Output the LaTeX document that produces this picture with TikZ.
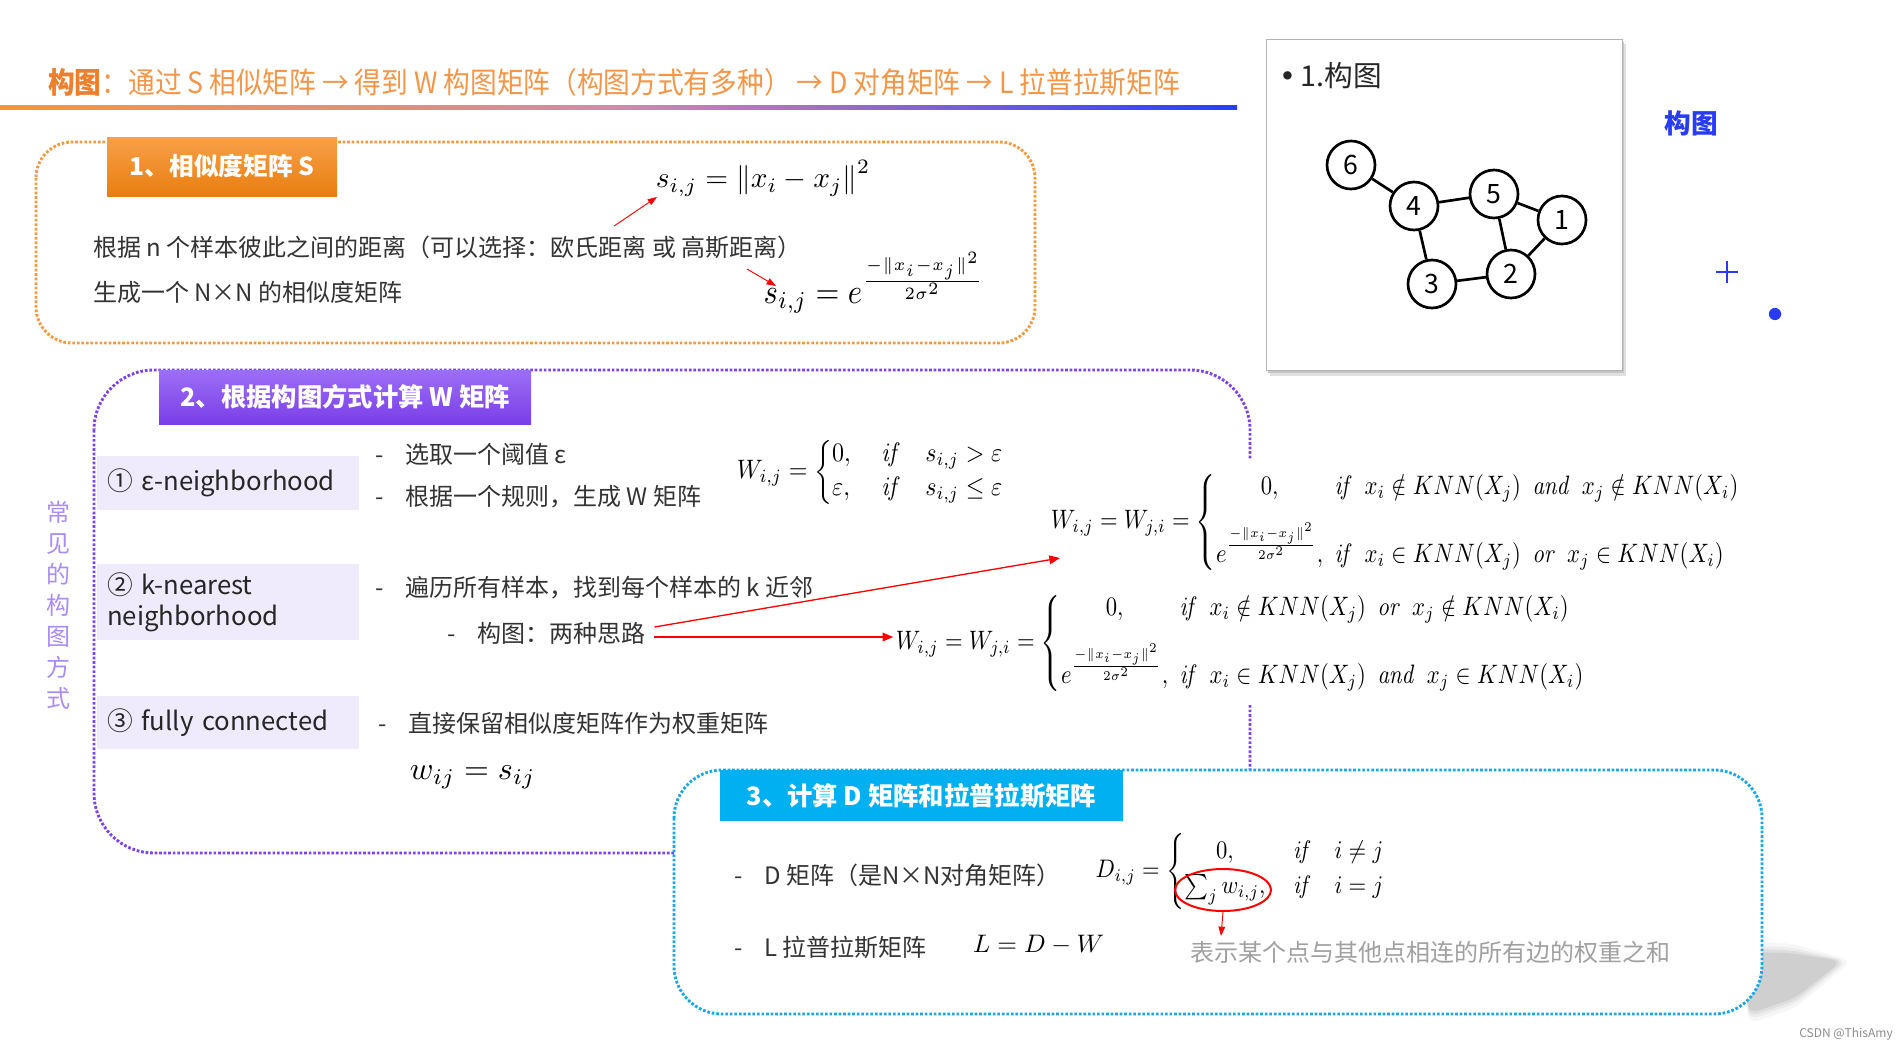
\documentclass[tikz,border=0pt]{standalone}
\usepackage{amsmath}
\usepackage[no-math]{fontspec}
\setmainfont{Noto Sans CJK SC}
\newfontfamily\dejavu{DejaVu Sans}
\usetikzlibrary{arrows.meta,shapes.geometric,calc}
\definecolor{ttlorange}{RGB}{243,150,72}
\definecolor{ttldark}{RGB}{236,128,46}
\definecolor{gradL}{RGB}{247,148,52}
\definecolor{gradM}{RGB}{214,136,170}
\definecolor{gradR}{RGB}{40,60,255}
\definecolor{boxAc}{RGB}{244,154,60}
\definecolor{hAtop}{RGB}{248,160,72}
\definecolor{hAbot}{RGB}{232,126,16}
\definecolor{boxBc}{RGB}{124,68,240}
\definecolor{hBtop}{RGB}{156,110,246}
\definecolor{hBbot}{RGB}{122,62,232}
\definecolor{lav}{RGB}{239,235,252}
\definecolor{vtc}{RGB}{170,140,247}
\definecolor{boxCc}{RGB}{24,168,230}
\definecolor{hCc}{RGB}{0,176,240}
\definecolor{bluec}{RGB}{40,60,245}
\definecolor{graytxt}{RGB}{160,160,160}
\newcommand\fsz[1]{\fontsize{#1}{#1}\selectfont}
\tikzset{
  dotbox/.style={line width=2.2pt, dash pattern=on 2pt off 1.4pt, fill=white},
  hdr/.style={text=white, font=\fsz{19}\bfseries, inner sep=0pt},
  lab/.style={fill=lav, font=\fsz{19.3}, align=left, text width=181pt, inner xsep=7.5pt, inner ysep=0pt, anchor=west, text=black!85},
  body/.style={font=\fsz{18}, anchor=west, inner sep=0pt, text=black!80},
  redarr/.style={red, line width=1pt, -{Triangle[length=8pt,width=6.5pt]}},
  redthin/.style={red, line width=0.7pt, -{Triangle[length=7pt,width=5pt]}},
  gnode/.style={circle, draw, line width=2pt, minimum size=36pt, inner sep=0pt, font=\fsz{20}, fill=white},
  gedge/.style={line width=2pt},
  mathf/.style={inner sep=1pt},
}
\begin{document}
\begin{tikzpicture}[x=0.75pt,y=-0.75pt]
\useasboundingbox (0,0) rectangle (1898,1050);
\fill[white] (0,0) rectangle (1898,1050);

% ---------- title ----------
\node[anchor=west, inner sep=0pt, text=ttlorange, font=\fsz{22}, xscale=0.91] (title) at (48,82)
  {{\bfseries\color{ttldark}构图}：通过 S 相似矩阵 → 得到 W 构图矩阵（构图方式有多种） → D 对角矩阵 → L 拉普拉斯矩阵};
\shade[left color=gradL, right color=gradR, middle color=gradM] (0,105) rectangle (1237,109);

% ---------- box 1 ----------
\draw[dotbox, draw=boxAc, rounded corners=27pt] (36,142) rectangle (1035,343);
\node[hdr, font=\fsz{18.5}\bfseries, top color=hAtop, bottom color=hAbot, minimum width=172.5pt, minimum height=44.25pt] (h1) at (222,166.5) {1、相似度矩阵 S};
\node[mathf, scale=2.2] (f1) at (763,178) {$s_{i,j} = \left\| x_i - x_j \right\|^2$};
\node[mathf, xscale=2.3, yscale=2.6] (f2) at (874,283) {$s_{i,j} = e^{\frac{-\|x_i-x_j\|^2}{2\sigma^2}}$};
\node[body] (t1) at (93,247) {根据 n 个样本彼此之间的距离（可以选择：欧氏距离 或 高斯距离）};
\node[body] (t2) at (93,292) {生成一个 N×N 的相似度矩阵};
\coordinate (a1s) at (614,226); \coordinate (a1e) at (657,197);
\coordinate (a2s) at (747,269); \coordinate (a2e) at (776,286);
\draw[redthin] (a1s) -- (a1e);
\draw[redthin] (a2s) -- (a2e);

% ---------- right panel ----------
\fill[black!12] (1270,44) rectangle (1626,376);
\fill[black!22] (1268,42) rectangle (1624,373);
\node[draw=black!30, fill=white, minimum width=267pt, minimum height=248.25pt, inner sep=0pt] (panel) at (1444,204.5) {};
\node[anchor=west, font=\fsz{21.5}, text=black!85, inner sep=0pt] (ptitle) at (1279,76) {{\dejavu •}\hspace{0.15em}1.构图};
\node[gnode] (g6) at (1351,165) {6};
\node[gnode] (g4) at (1414,206) {4};
\node[gnode] (g5) at (1494,194) {5};
\node[gnode] (g1) at (1562,220) {1};
\node[gnode] (g2) at (1511,274) {2};
\node[gnode] (g3) at (1432,284) {3};
\draw[gedge] (g6) -- (g4) (g4) -- (g5) (g5) -- (g1) (g5) -- (g2) (g1) -- (g2) (g4) -- (g3) (g3) -- (g2);

\node[font=\fsz{20}\bfseries, text=bluec] (blue) at (1691,123) {构图};
\draw[bluec, line width=1.6pt] (1716,272) -- (1738,272) (1727,261) -- (1727,283);
\fill[bluec] (1775,314) circle (4.6pt);

% ---------- box 2 ----------
\draw[dotbox, draw=boxBc, rounded corners=45pt] (94,370) rectangle (1250,853);
\node[hdr, top color=hBtop, bottom color=hBbot, minimum width=279pt, minimum height=40.5pt] (h2) at (345,397) {2、根据构图方式计算 W 矩阵};
\node[font=\fontsize{18}{23.25}\selectfont, align=center, text=vtc, inner sep=0pt] (vt) at (58,605) {常\\见\\的\\构\\图\\方\\式};

\node[lab, minimum height=40.5pt] (l1) at (97,483) {① ε-neighborhood};
\node[lab, minimum height=57pt, font=\fontsize{19.3}{23.25}\selectfont] (l2) at (97,602) {② k-nearest\\neighborhood};
\node[lab, minimum height=39.75pt] (l3) at (97,722.5) {③ fully connected};

\node[body] (b1) at (375,454) {-\hspace{0.9em}选取一个阈值 ε};
\node[body] (b2) at (375,497) {-\hspace{0.9em}根据一个规则，生成 W 矩阵};
\node[body] (b3) at (375,588) {-\hspace{0.9em}遍历所有样本，找到每个样本的 k 近邻};
\node[body] (b4) at (447,633) {-\hspace{0.9em}构图：两种思路};
\node[body] (b5) at (378,723) {-\hspace{0.9em}直接保留相似度矩阵作为权重矩阵};
\node[mathf, anchor=west, scale=2.4] (wij) at (406,777) {$w_{ij} = s_{ij}$};

\node[mathf, xscale=1.8, yscale=2.0] (fe) at (871,472)
 {$W_{i,j} = \left\{\begin{array}{@{}l@{\quad\;}c@{\quad}l@{}} 0, & \mathit{if} & s_{i,j} > \varepsilon\\[1pt] \varepsilon, & \mathit{if} & s_{i,j}\le\varepsilon \end{array}\right.$};
\node[fill=white, inner xsep=1pt, inner ysep=4.5pt, xscale=1.7, yscale=2.0] (fk1) at (1396,522)
 {$W_{i,j}=W_{j,i}=\left\{\begin{array}{@{}c@{\enspace}l@{}} 0, & \mathit{if}\enspace x_i\notin KNN(X_j)\enspace \mathit{and}\enspace x_j\notin KNN(X_i)\\[7pt] e^{\frac{-\|x_i-x_j\|^2}{2\sigma^2}}, & \mathit{if}\enspace x_i\in KNN(X_j)\enspace \mathit{or}\enspace x_j\in KNN(X_i)\end{array}\right.$};
\node[fill=white, inner xsep=1pt, inner ysep=4.5pt, xscale=1.7, yscale=2.0] (fk2) at (1241,643)
 {$W_{i,j}=W_{j,i}=\left\{\begin{array}{@{}c@{\enspace}l@{}} 0, & \mathit{if}\enspace x_i\notin KNN(X_j)\enspace \mathit{or}\enspace x_j\notin KNN(X_i)\\[7pt] e^{\frac{-\|x_i-x_j\|^2}{2\sigma^2}}, & \mathit{if}\enspace x_i\in KNN(X_j)\enspace \mathit{and}\enspace x_j\in KNN(X_i)\end{array}\right.$};
\coordinate (k1tip) at (1060,558);
\draw[redarr] ($(b4.east)+(9,-6)$) -- (k1tip);
\draw[redarr] ($(b4.east)+(9,4)$) -- (fk2.west |- 0,637);

% ---------- box 3 ----------
\foreach \d/\o in {10/0.035,6/0.045,3/0.055,0/0.065}{
  \fill[black, opacity=\o, rounded corners=8pt] (1745,952-\d) -- (1790,953-\d) -- (1842+\d,961) -- (1795,998+\d) -- (1748,1014+\d) -- cycle;
}
\draw[dotbox, draw=boxCc, rounded corners=36pt] (674,770) rectangle (1762,1014);
\node[hdr, fill=hCc, minimum width=302.25pt, minimum height=38.25pt] (h3) at (921.5,795.5) {3、计算 D 矩阵和拉普拉斯矩阵};
\node[body] (d1) at (734,875) {-\hspace{0.9em}D 矩阵（是N×N对角矩阵）};
\node[mathf, anchor=west, xscale=1.7, yscale=1.9] (fd) at (1093,871)
 {$D_{i,j} = \left\{\begin{array}{@{}c@{\quad\ }l@{}} 0, & \mathit{if}\quad i\ne j\\[2pt] \sum_j w_{i,j}, & \mathit{if}\quad i=j\end{array}\right.$};
\node[ellipse, draw=red, line width=1.5pt, minimum width=72pt, minimum height=31.5pt] (ring) at (1223,890) {};
\coordinate (ringtip) at (1221,936);
\draw[redthin] (ring.south) -- (ringtip);
\node[body] (d2) at (734,947) {-\hspace{0.9em}L 拉普拉斯矩阵};
\node[mathf, anchor=west, scale=1.9] (lf) at (970,945) {$L = D - W$};
\node[body, text=graytxt] (gt) at (1190,952) {表示某个点与其他点相连的所有边的权重之和};

\node[anchor=east, font=\fsz{9}, text=black!45, inner sep=0pt] (wm) at (1893,1034) {CSDN @ThisAmy};
\end{tikzpicture}
\end{document}
